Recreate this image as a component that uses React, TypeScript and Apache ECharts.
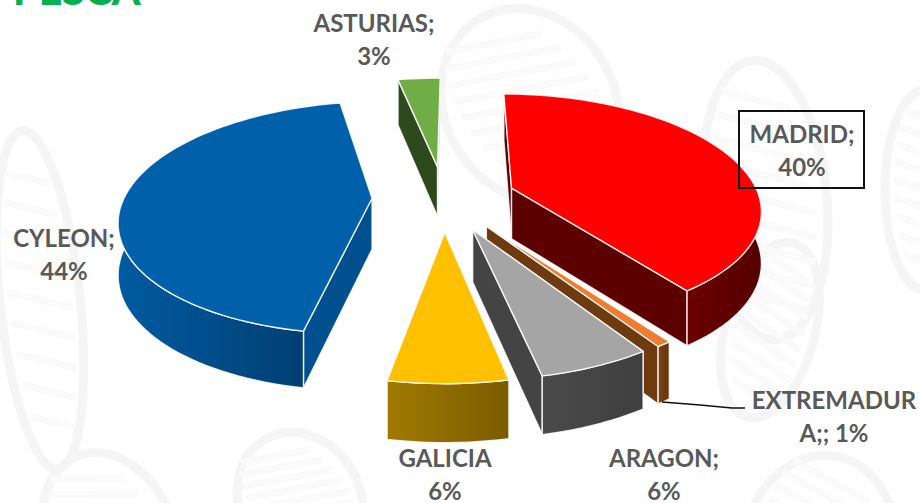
import React, { useEffect, useRef } from "react";
import * as echarts from "echarts";

const categories = ["MADRID", "EXTREMADURA", "ARAGON", "GALICIA", "CYLEON", "ASTURIAS"];
const shares = [39.9, 0.8, 5.9, 6.2, 43.9, 3.3];
const labelLines = [["MADRID;", "40%"], ["EXTREMADUR", "A;; 1%"], ["ARAGON;", "6%"], ["GALICIA", "6%"], ["CYLEON;", "44%"], ["ASTURIAS;", "3%"]];
const labelAnchors = [[802, 150], [834, 416], [664, 474], [445, 474], [64, 254], [374, 39]];
const topColors = ["#FF0000", "#ED7D31", "#A5A5A5", "#FFC000", "#0060AA", "#70AD47"];
const sideColors = [["#6a0000", "#560000"], ["#7a4213", "#63340e"], ["#4a4a4a", "#3f3f3f"], ["#a07a00", "#7a5c00"], ["#005ba1", "#003f73"], ["#33501f", "#2b4419"]];
const cutColors = ["#5c0000", "#6e3a10", "#444444", "#7f6000", "#00508f", "#2e4a1c"];
const drawOrder = [5, 0, 4, 1, 2, 3];

const START = 0.5, CX = 444, CY = 198, EXPLODE = 0.29, PERSP = 6, RX = 248, RY = 113, DEPTH = 51;
const RAD = Math.PI / 180;

function buildSlices() {
  const total = shares.reduce((a, b) => a + b, 0);
  let a = START;
  return shares.map((v) => {
    const from = a;
    a += (v / total) * 360;
    return [from, a];
  });
}
const slices = buildSlices();

function project(r: number, deg: number, mid: number, down: number) {
  const wu = r * Math.sin(deg * RAD) + EXPLODE * Math.sin(mid * RAD);
  const wv = -r * Math.cos(deg * RAD) - EXPLODE * Math.cos(mid * RAD);
  const s = PERSP / (PERSP - wv);
  return [CX + RX * wu * s, CY + RY * wv * s + down * DEPTH * Math.pow(s, 0.6)];
}

function renderSlice(params: any, _api: any) {
  const i = drawOrder[params.dataIndex];
  const [a0, a1] = slices[i];
  const mid = (a0 + a1) / 2;
  const steps = Math.max(3, Math.ceil((a1 - a0) / 2));
  const arcTop: number[][] = [];
  const rimTop: number[][] = [];
  const rimBot: number[][] = [];
  for (let k = 0; k <= steps; k++) {
    const d = a0 + ((a1 - a0) * k) / steps;
    arcTop.push(project(1, d, mid, 0));
    if (d > 85 && d < 275) {
      rimTop.push(project(1, d, mid, 0));
      rimBot.push(project(1, d, mid, 1));
    }
  }
  const apexT = project(0, 0, mid, 0);
  const apexB = project(0, 0, mid, 1);
  const edge = { stroke: "rgba(255,255,255,0.85)", lineWidth: 1.4, lineJoin: "round" };
  const cut = (deg: number) => ({
    type: "polygon",
    shape: { points: [apexT, project(1, deg, mid, 0), project(1, deg, mid, 1), apexB] },
    style: { fill: cutColors[i], ...edge },
  });
  const cuts = [a0, a1].sort((p, q) => Math.cos(q * RAD) - Math.cos(p * RAD));
  const children: any[] = cuts.map(cut);
  if (rimTop.length > 1) {
    children.push({
      type: "polygon",
      shape: { points: [...rimTop, ...[...rimBot].reverse()] },
      style: {
        fill: new echarts.graphic.LinearGradient(0, 0, 1, 0, [
          { offset: 0, color: sideColors[i][0] },
          { offset: 1, color: sideColors[i][1] },
        ]),
        ...edge,
      },
    });
  }
  children.push({
    type: "polygon",
    shape: { points: [apexT, ...arcTop] },
    style: { fill: topColors[i], ...edge },
  });
  return { type: "group", children };
}

function leaf(x: number, y: number, rx: number, ry: number, rot: number) {
  const lines: any[] = [];
  for (let k = -4; k <= 4; k++) {
    const t = (k / 5) * ry * 0.9;
    const half = rx * 0.78 * Math.sqrt(1 - (t / ry) * (t / ry));
    lines.push({
      type: "line",
      shape: { x1: -half, y1: t - half * 0.35, x2: half, y2: t + half * 0.35 },
      style: { stroke: "#fafafa", lineWidth: 7 },
    });
  }
  return {
    type: "group",
    x,
    y,
    rotation: rot * RAD,
    silent: true,
    z: -1,
    children: [
      ...lines,
      { type: "ellipse", z: -1, shape: { cx: 0, cy: 0, rx, ry }, style: { fill: "none", stroke: "#f5f5f5", lineWidth: 9 } },
    ],
  };
}

const FONT = "Lato";

export default function App() {
  const ref = useRef<HTMLDivElement>(null);
  useEffect(() => {
    const chart = echarts.init(ref.current!, undefined, { renderer: "svg" });
    const labelEls = labelLines.flatMap((lines, i) =>
      lines.map((t, k) => ({
        type: "text",
        x: labelAnchors[i][0],
        y: labelAnchors[i][1] + (k === 0 ? -17 : 16),
        z: 20,
        style: {
          text: t,
          fill: "#595959",
          fontFamily: FONT,
          fontWeight: 700,
          fontSize: 24,
          align: "center",
          verticalAlign: "middle",
        },
      }))
    );
    chart.setOption({
      animation: false,
      backgroundColor: "#ffffff",
      series: [
        {
          type: "custom",
          coordinateSystem: "none",
          renderItem: renderSlice,
          z: 5,
          data: drawOrder.map((i) => ({ value: shares[i], name: categories[i] })),
        },
      ],
      graphic: [
        leaf(530, 105, 85, 100, 30),
        leaf(40, 300, 40, 170, 6),
        leaf(110, 540, 65, 90, 20),
        leaf(765, 200, 62, 140, 5),
        leaf(770, 330, 45, 90, -15),
        leaf(820, 545, 75, 90, -10),
        leaf(300, 500, 60, 70, 30),
        leaf(925, 190, 40, 100, 0),
        {
          type: "text",
          x: 13,
          y: 10,
          z: 20,
          style: { text: "PESCA", fill: "#00B050", fontFamily: FONT, fontWeight: 900, fontSize: 41, align: "left", verticalAlign: "bottom" },
        },
        ...labelEls,
        {
          type: "rect",
          z: 21,
          shape: { x: 739, y: 111, width: 125, height: 77 },
          style: { fill: "none", stroke: "#111111", lineWidth: 2 },
        },
        {
          type: "polyline",
          z: 21,
          shape: { points: [[662, 402], [700, 405], [732, 408], [745, 408]] },
          style: { fill: "none", stroke: "#111111", lineWidth: 1.5 },
        },
        {
          type: "line",
          z: 21,
          shape: { x1: 748, y1: 480, x2: 773, y2: 457 },
          style: { stroke: "#ffffff", lineWidth: 1.5 },
        },
      ],
    });
    return () => chart.dispose();
  }, []);
  return <div ref={ref} style={{ position: "fixed", left: 0, top: 0, width: 920, height: 503 }} />;
}
